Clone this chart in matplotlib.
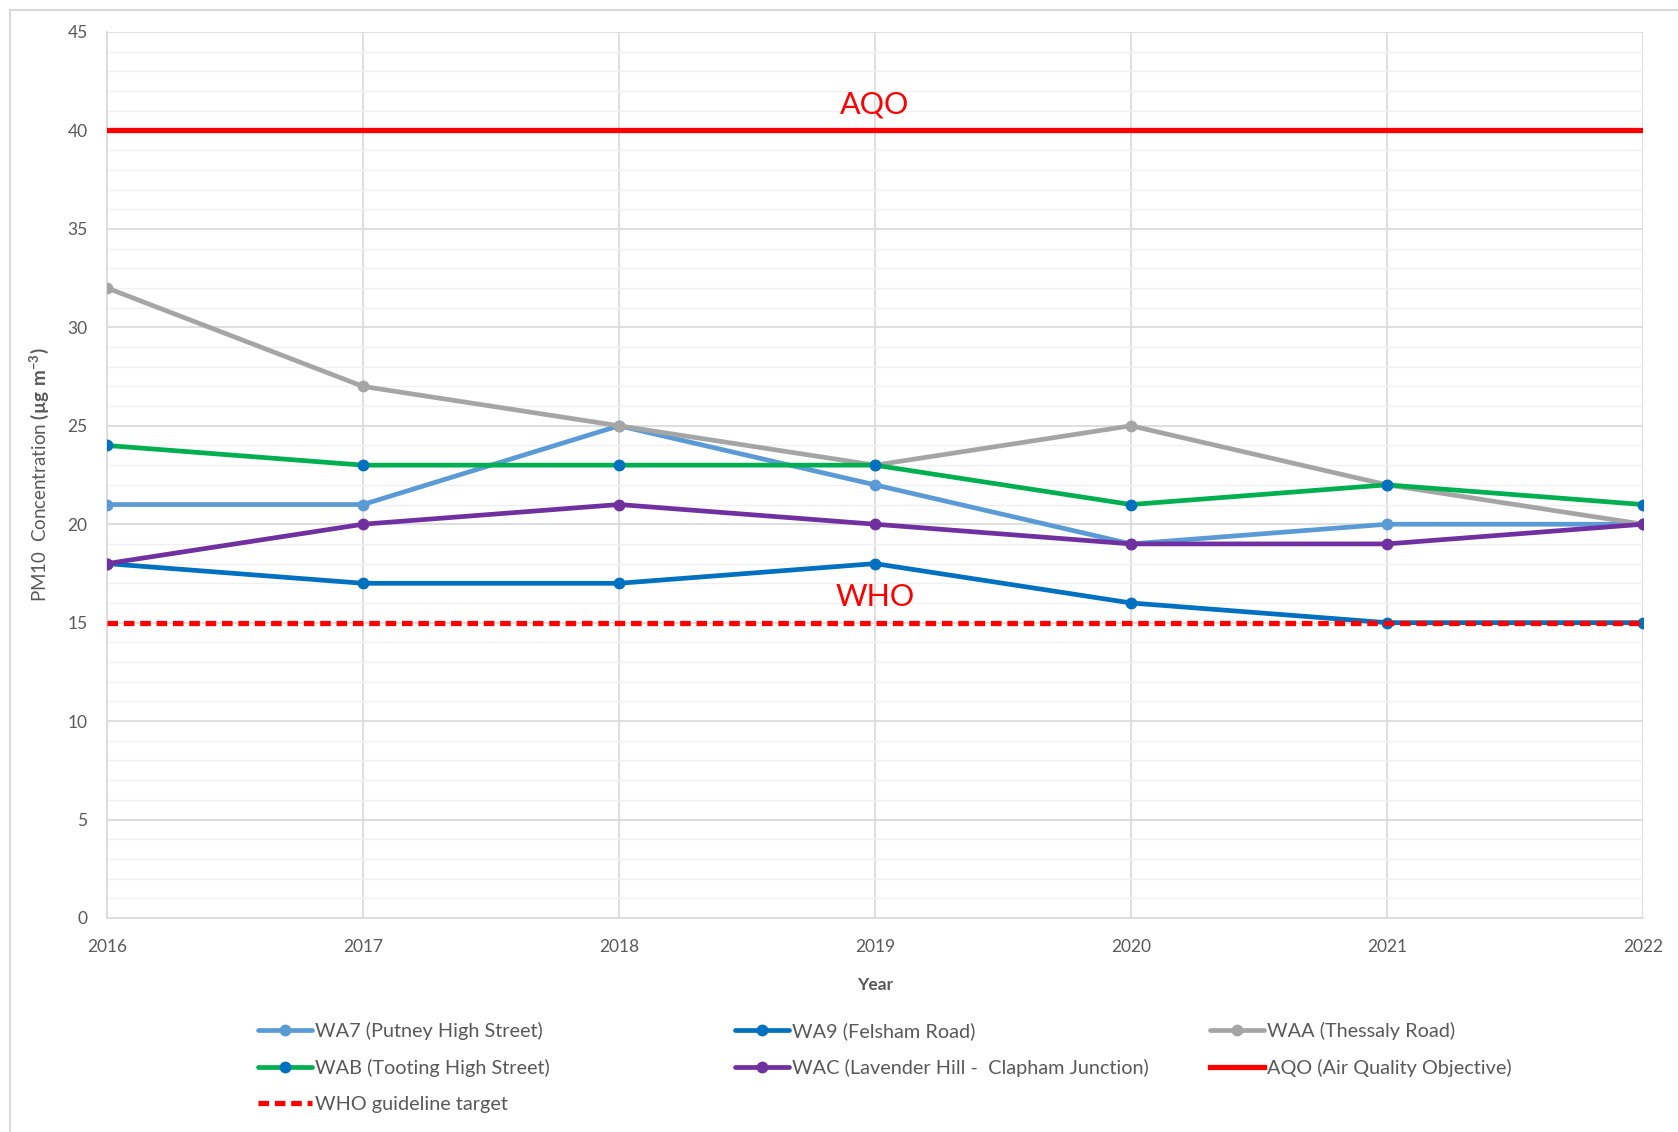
import matplotlib
matplotlib.use("Agg")
import matplotlib.pyplot as plt
from matplotlib.patches import Rectangle

plt.rcParams["font.family"] = ["Lato", "DejaVu Sans"]
plt.rcParams["mathtext.fontset"] = "custom"
plt.rcParams["mathtext.rm"] = "Lato"
plt.rcParams["mathtext.bf"] = "Lato:bold"

years = [2016, 2017, 2018, 2019, 2020, 2021, 2022]

wa7 = [21, 21, 25, 22, 19, 20, 20]
wa9 = [18, 17, 17, 18, 16, 15, 15]
waa = [32, 27, 25, 23, 25, 22, 20]
wab = [24, 23, 23, 23, 21, 22, 21]
wac = [18, 20, 21, 20, 19, 19, 20]
aqo_level = 40
who_level = 15

series = [
    ("WA7 (Putney High Street)", wa7, "#5B9BD5", "#5B9BD5"),
    ("WA9 (Felsham Road)", wa9, "#0070C0", "#0070C0"),
    ("WAA (Thessaly Road)", waa, "#A5A5A5", "#A5A5A5"),
    ("WAB (Tooting High Street)", wab, "#00B050", "#0070C0"),
    ("WAC (Lavender Hill -  Clapham Junction)", wac, "#7030A0", "#7030A0"),
]

W, H = 1678, 1132
fig = plt.figure(figsize=(W / 100, H / 100), dpi=100)
ax = fig.add_axes([107 / W, 1 - 918 / H, (1643 - 107) / W, (918 - 32) / H])

# outer chart border
fig.patches.append(Rectangle((10 / W, -0.01), 1.1, 1 - 10 / H + 0.01,
                             transform=fig.transFigure, fill=False,
                             edgecolor="#D9D9D9", linewidth=1.5))

handles = {}
for label, vals, col, mcol in series:
    (h,) = ax.plot(years, vals, color=col, linewidth=3.4, marker="o",
                   markersize=7.5, markerfacecolor=mcol, markeredgecolor=mcol,
                   label=label, zorder=3, solid_capstyle="round")
    handles[label] = h

(h_aqo,) = ax.plot([years[0], years[-1]], [aqo_level, aqo_level], color="#FF0000",
                   linewidth=3.8, zorder=4, label="AQO (Air Quality Objective)")
(h_who,) = ax.plot([years[0], years[-1]], [who_level, who_level], color="#FF0000",
                   linewidth=3.8, linestyle=(0, (2.0, 1.1)), zorder=4,
                   label="WHO guideline target")

ax.text(2019, aqo_level + 0.6, "AQO", color="#FF0000", fontsize=22,
        ha="center", va="bottom")
ax.text(2019, who_level + 0.6, "WHO", color="#FF0000", fontsize=22,
        ha="center", va="bottom")

ax.set_xlim(years[0], years[-1])
ax.set_ylim(0, 45)
ax.set_xticks(years)
ax.set_yticks(range(0, 46, 5))
ax.set_yticks(range(0, 46, 1), minor=True)
ax.grid(which="major", axis="both", color="#D9D9D9", linewidth=1.2, zorder=0)
ax.grid(which="minor", axis="y", color="#F0F0F0", linewidth=1.0, zorder=0)
ax.set_axisbelow(True)
for side in ["top", "right"]:
    ax.spines[side].set_visible(False)
for side in ["left", "bottom"]:
    ax.spines[side].set_color("#D9D9D9")
    ax.spines[side].set_linewidth(1.2)
ax.tick_params(which="both", length=0, colors="#595959", labelsize=12.5)
ax.tick_params(axis="x", pad=15)
ax.tick_params(axis="y", pad=14)

ax.set_xlabel("Year", fontsize=12.5, fontweight="bold", color="#595959", labelpad=16)
ax.set_ylabel(r"PM10  Concentration $\mathbf{(µg\ m^{-3})}$", fontsize=13.5,
              color="#595959", labelpad=12)

# legend, three columns placed separately
cols = [
    [handles["WA7 (Putney High Street)"], handles["WAB (Tooting High Street)"], h_who],
    [handles["WA9 (Felsham Road)"], handles["WAC (Lavender Hill -  Clapham Junction)"]],
    [handles["WAA (Thessaly Road)"], h_aqo],
]
col_x = [250, 727, 1202]
for hs, x in zip(cols, col_x):
    leg = fig.legend(handles=hs, labels=[h.get_label() for h in hs],
                     loc="upper left", bbox_to_anchor=(x / W, 1 - 1014 / H),
                     frameon=False, fontsize=14.3, handlelength=2.7,
                     handletextpad=0.15, labelspacing=0.95, borderaxespad=0)
    for t in leg.get_texts():
        t.set_color("#595959")

fig.savefig("out.png", dpi=100)
